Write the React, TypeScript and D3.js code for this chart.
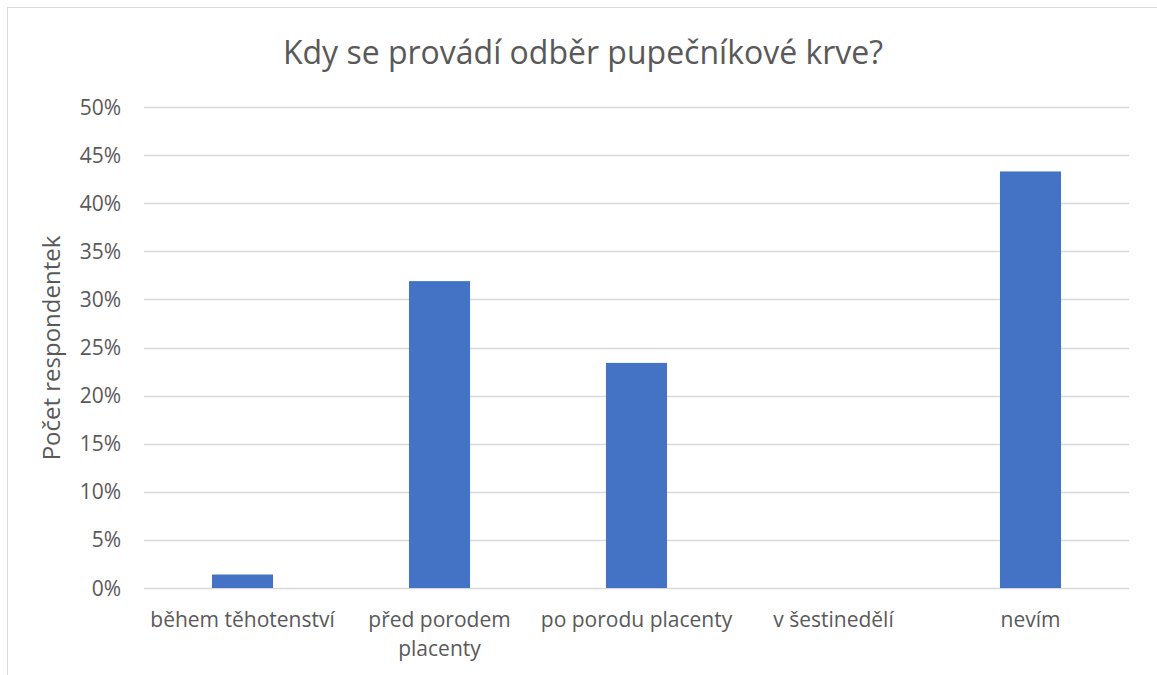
import React, { useEffect, useRef } from "react";
import * as d3 from "d3";

const TITLE = "Kdy se provádí odběr pupečníkové krve?";
const Y_LABEL = "Počet respondentek";
const categories = ["během těhotenství", "před porodem placenty", "po porodu placenty", "v šestinedělí", "nevím"];
const categoryLines = [["během těhotenství"], ["před porodem", "placenty"], ["po porodu placenty"], ["v šestinedělí"], ["nevím"]];
const values = [1.4, 31.9, 23.4, 0, 43.3];
const yTicks = [0, 5, 10, 15, 20, 25, 30, 35, 40, 45, 50];

const W = 1157;
const H = 675;
const FONT = "'Open Sans', 'Noto Sans', sans-serif";

export default function App() {
  const ref = useRef<SVGSVGElement>(null);
  useEffect(() => {
    const svg = d3.select(ref.current);
    svg.selectAll("*").remove();
    const left = 144, right = 1129, top = 107, bottom = 588;
    const x = d3.scaleBand<string>().domain(categories).range([left, right]).paddingInner(0.69).paddingOuter(0.345);
    const y = d3.scaleLinear().domain([0, 50]).range([bottom, top]);

    svg.append("rect").attr("x", 7.5).attr("y", 7.5).attr("width", W + 20).attr("height", H + 20)
      .attr("fill", "white").attr("stroke", "#D9D9D9").attr("stroke-width", 1);

    svg.append("text").attr("x", 583).attr("y", 64).attr("text-anchor", "middle")
      .attr("font-family", FONT).attr("font-size", 32).attr("fill", "#595959").text(TITLE);

    const g = svg.append("g");
    g.selectAll("line.grid").data(yTicks).join("line").attr("class", "grid")
      .attr("x1", left).attr("x2", right)
      .attr("y1", (d) => Math.round(y(d)) + 0.5).attr("y2", (d) => Math.round(y(d)) + 0.5)
      .attr("stroke", "#D9D9D9").attr("stroke-width", 1.3);

    g.selectAll("text.ytick").data(yTicks).join("text").attr("class", "ytick")
      .attr("x", 121).attr("y", (d) => y(d) + 7.5).attr("text-anchor", "end")
      .attr("font-family", FONT).attr("font-size", 21).attr("fill", "#595959")
      .text((d) => d + "%");

    g.selectAll("rect.bar").data(values).join("rect").attr("class", "bar")
      .attr("x", (_, i) => x(categories[i])!).attr("width", x.bandwidth())
      .attr("y", (d) => y(d)).attr("height", (d) => bottom - y(d))
      .attr("fill", "#4472C4");

    categoryLines.forEach((lines, i) => {
      const cx = x(categories[i])! + x.bandwidth() / 2;
      const t = g.append("text").attr("text-anchor", "middle").attr("font-family", FONT)
        .attr("font-size", 21).attr("fill", "#595959");
      lines.forEach((ln, j) => {
        t.append("tspan").attr("x", cx).attr("y", 627 + j * 29).text(ln);
      });
    });

    svg.append("text").attr("transform", "translate(60,348) rotate(-90)").attr("text-anchor", "middle")
      .attr("font-family", FONT).attr("font-size", 24).attr("fill", "#595959").text(Y_LABEL);
  }, []);
  return (
    <svg ref={ref} width={W} height={H} style={{ position: "absolute", left: 0, top: 0, background: "white" }} />
  );
}
